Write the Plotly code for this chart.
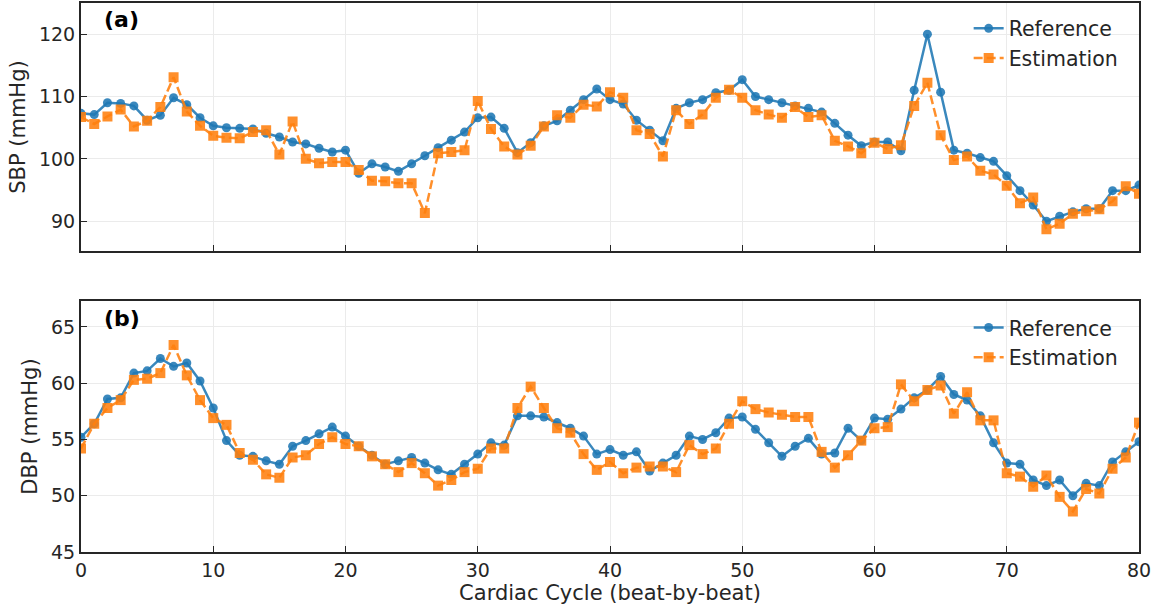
import plotly.graph_objects as go
from plotly.subplots import make_subplots

cycles = list(range(81))

sbp_reference = [107.3, 107.1, 109.0, 108.9, 108.5, 106.2, 107.0, 109.8, 108.7, 106.6,
                 105.3, 105.0, 104.9, 104.8, 104.1, 103.5, 102.7, 102.4, 101.7, 101.1,
                 101.4, 97.7, 99.2, 98.7, 98.0, 99.2, 100.5, 101.8, 103.0, 104.3,
                 106.6, 106.7, 104.9, 101.0, 102.6, 105.3, 106.1, 107.8, 109.5, 111.2,
                 109.5, 108.8, 106.2, 104.6, 102.9, 108.1, 109.0, 109.5, 110.6, 111.0,
                 112.7, 110.0, 109.5, 109.0, 108.5, 108.1, 107.5, 105.7, 103.8, 102.1,
                 102.7, 102.7, 101.3, 111.0, 120.0, 110.7, 101.4, 100.9, 100.2, 99.6,
                 97.3, 94.9, 92.6, 90.0, 90.8, 91.5, 92.0, 92.0, 94.9, 94.9, 95.8]

sbp_estimation = [106.7, 105.6, 106.8, 107.9, 105.2, 106.1, 108.3, 113.1, 107.6, 105.3,
                  103.7, 103.4, 103.3, 104.3, 104.6, 100.7, 106.0, 100.0, 99.3, 99.5,
                  99.5, 98.2, 96.5, 96.4, 96.1, 96.1, 91.3, 100.9, 101.1, 101.4,
                  109.3, 104.8, 102.0, 100.7, 102.1, 105.2, 107.0, 106.6, 108.7, 108.4,
                  110.7, 109.8, 104.6, 104.0, 100.4, 107.8, 105.6, 107.1, 109.8, 111.1,
                  109.8, 107.8, 107.1, 106.6, 108.3, 106.7, 107.0, 102.9, 102.0, 100.9,
                  102.6, 101.6, 102.2, 108.5, 112.2, 103.8, 99.8, 100.4, 98.1, 97.5,
                  95.7, 92.9, 93.8, 88.7, 89.6, 91.2, 91.6, 91.9, 93.2, 95.6, 94.4]

dbp_reference = [55.2, 56.4, 58.6, 58.7, 60.9, 61.1, 62.2, 61.5, 61.8, 60.2,
                 57.8, 54.9, 53.6, 53.5, 53.1, 52.8, 54.4, 54.9, 55.5, 56.1,
                 55.3, 54.4, 53.6, 52.8, 53.1, 53.4, 52.9, 52.3, 51.9, 52.8,
                 53.7, 54.7, 54.5, 57.1, 57.1, 57.0, 56.5, 56.0, 55.3, 53.7,
                 54.1, 53.6, 53.9, 52.2, 52.9, 53.6, 55.3, 55.0, 55.6, 56.9,
                 57.0, 55.9, 54.7, 53.5, 54.4, 55.1, 53.7, 53.8, 56.0, 54.9,
                 56.9, 56.8, 57.7, 58.7, 59.4, 60.6, 59.0, 58.5, 57.1, 54.7,
                 52.9, 52.8, 51.4, 50.9, 51.4, 50.0, 51.1, 50.9, 53.0, 53.9, 54.8]

dbp_estimation = [54.2, 56.4, 57.8, 58.5, 60.3, 60.4, 60.9, 63.4, 60.7, 58.5,
                  56.9, 56.3, 53.8, 53.2, 51.9, 51.6, 53.4, 53.6, 54.6, 55.2,
                  54.6, 54.4, 53.5, 52.8, 52.1, 52.9, 52.0, 50.9, 51.4, 52.1,
                  52.4, 54.2, 54.2, 57.8, 59.7, 57.8, 56.0, 55.6, 53.7, 52.3,
                  53.0, 52.0, 52.5, 52.6, 52.6, 52.1, 54.5, 53.7, 54.2, 56.4,
                  58.4, 57.7, 57.4, 57.2, 57.0, 57.0, 53.9, 52.5, 53.6, 54.9,
                  56.0, 56.1, 59.9, 58.4, 59.4, 59.8, 57.3, 59.2, 56.7, 56.7,
                  52.0, 51.7, 50.8, 51.8, 49.9, 48.6, 50.6, 50.2, 52.4, 53.4, 56.5]

BLUE = "rgba(31,119,180,0.88)"
ORANGE = "rgba(255,127,14,0.88)"
FONT = "DejaVu Sans"
TXT = "#262626"

fig = make_subplots(rows=2, cols=1, shared_xaxes=False, vertical_spacing=0.09)

def add_pair(ref, est, row, legend):
    fig.add_trace(go.Scatter(x=cycles, y=ref, name="Reference", mode="lines+markers",
                             line=dict(color=BLUE, width=2.5),
                             marker=dict(symbol="circle", size=9, color=BLUE),
                             legend=legend), row=row, col=1)
    fig.add_trace(go.Scatter(x=cycles, y=est, name="Estimation", mode="lines+markers",
                             line=dict(color=ORANGE, width=2.5, dash="9px,4px"),
                             marker=dict(symbol="square", size=10, color=ORANGE),
                             legend=legend), row=row, col=1)

add_pair(sbp_reference, sbp_estimation, 1, "legend")
add_pair(dbp_reference, dbp_estimation, 2, "legend2")

axis_common = dict(showline=True, linecolor="#262626", linewidth=2, mirror=True,
                   ticks="inside", ticklen=6, tickwidth=1.2, tickcolor="#262626",
                   showgrid=True, gridcolor="#ebebeb", gridwidth=1, zeroline=False,
                   tickfont=dict(family=FONT, size=19, color=TXT))

fig.update_xaxes(**axis_common)
fig.update_yaxes(**axis_common)

title_font = dict(family=FONT, size=21, color=TXT)
fig.update_xaxes(range=[0, 80], dtick=10, tick0=0, showticklabels=False, row=1, col=1)
fig.update_xaxes(range=[0, 80], dtick=10, tick0=0, row=2, col=1,
                 title=dict(text="Cardiac Cycle (beat-by-beat)", standoff=4, font=title_font))
fig.update_yaxes(range=[85.2, 125], tickvals=[90, 100, 110, 120], row=1, col=1,
                 title=dict(text="SBP (mmHg)", standoff=8, font=title_font))
fig.update_yaxes(range=[45, 67.3], tickvals=[45, 50, 55, 60, 65], row=2, col=1,
                 title=dict(text="DBP (mmHg)", standoff=8, font=title_font))

legend_font = dict(family=FONT, size=20.5, color=TXT)
fig.update_layout(
    xaxis=dict(domain=[0, 1]),
    yaxis=dict(domain=[0.548, 1.0]),
    yaxis2=dict(domain=[0.0, 0.457]),
    width=1161, height=610,
    margin=dict(l=81, r=22, t=1, b=58),
    paper_bgcolor="white", plot_bgcolor="white",
    showlegend=True,
    legend=dict(x=0.839, y=0.99, xanchor="left", yanchor="top", bgcolor="rgba(0,0,0,0)",
                font=legend_font, tracegroupgap=0),
    legend2=dict(x=0.839, y=0.445, xanchor="left", yanchor="top", bgcolor="rgba(0,0,0,0)",
                 font=legend_font, tracegroupgap=0),
    annotations=[
        dict(text="<b>(a)</b>", x=0.02, y=0.935, xref="x domain", yref="y domain",
             xanchor="left", yanchor="middle", showarrow=False,
             font=dict(family=FONT, size=22, color="black")),
        dict(text="<b>(b)</b>", x=0.02, y=0.93, xref="x2 domain", yref="y2 domain",
             xanchor="left", yanchor="middle", showarrow=False,
             font=dict(family=FONT, size=22, color="black")),
    ],
)

fig.write_html("out.html")
